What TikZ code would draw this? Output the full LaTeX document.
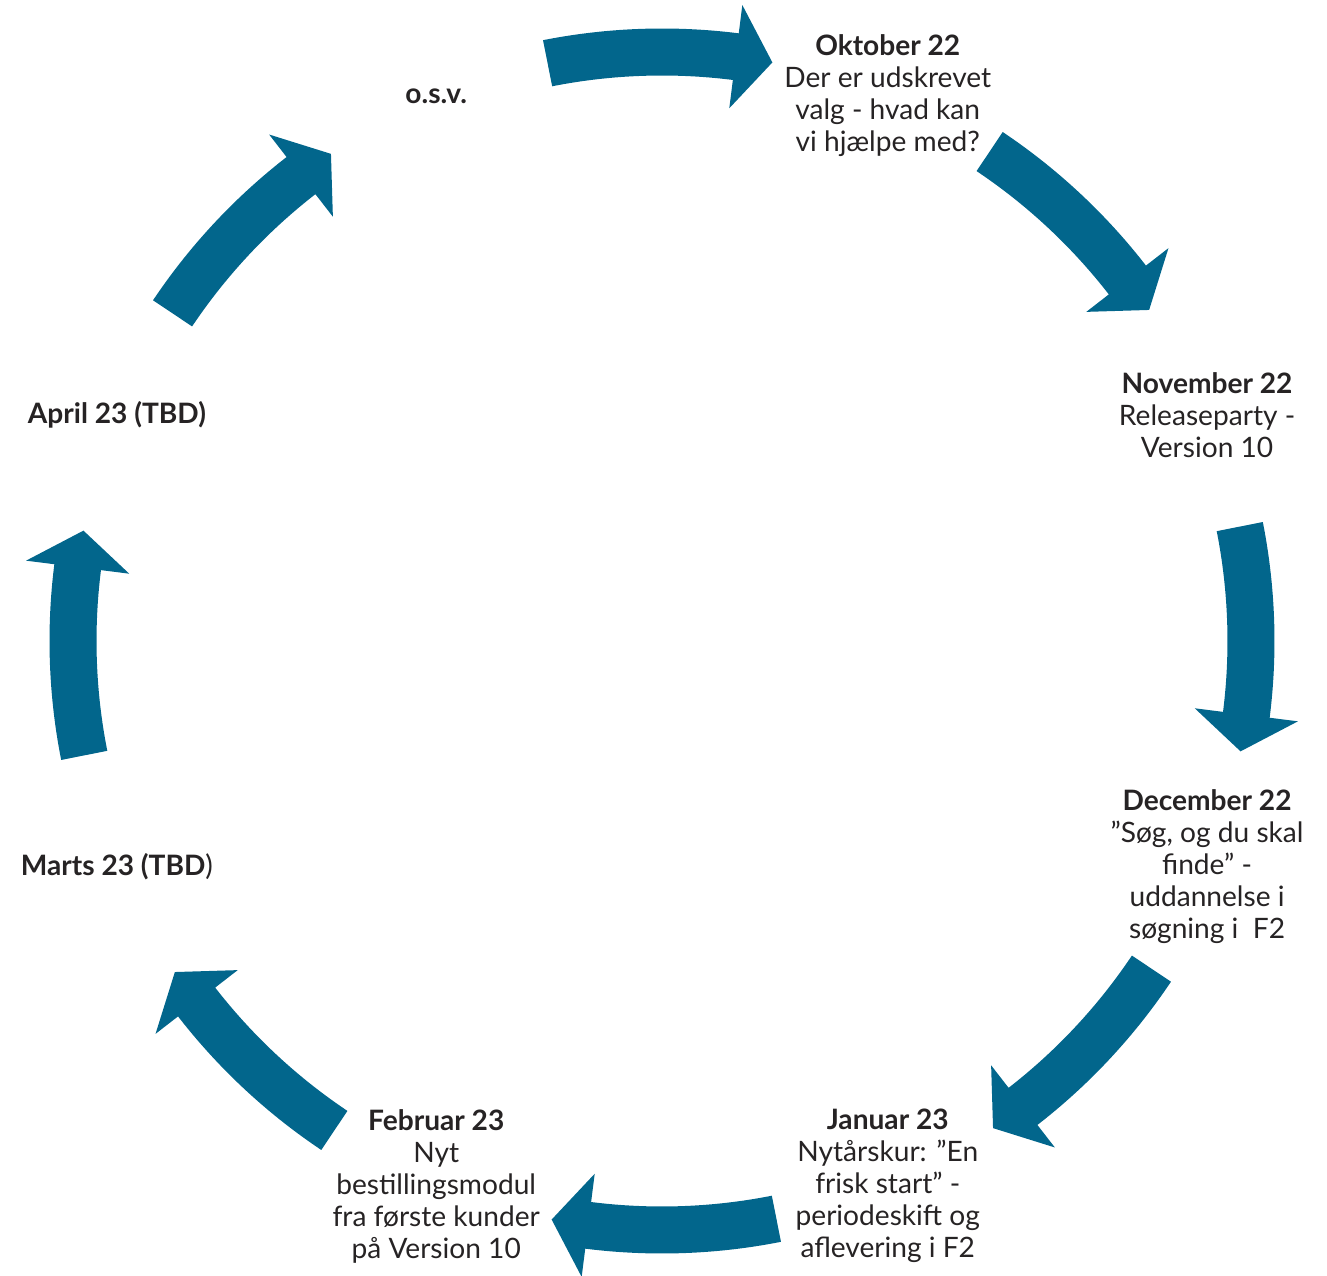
\documentclass[tikz,border=0pt]{standalone}
\usepackage{fontspec}
\setmainfont{Lato}
\usepackage{tikz}
\definecolor{arrowblue}{RGB}{2,102,140}
\definecolor{txtgray}{RGB}{38,35,36}
\newcommand\cyclefont{\fontsize{16pt}{18.2pt}\selectfont}

\begin{document}
\begin{tikzpicture}[every node/.style={align=center,text=txtgray,font=\cyclefont,inner sep=0pt},
                    cyclearrow/.style={fill=arrowblue}]
   \useasboundingbox (-13.24,-12.68) rectangle (13.30,12.82);
   \node (okt) at (67.5:11.8)   {\textbf{Oktober 22}\\Der er udskrevet\\valg - hvad kan\\vi hjælpe med?};
   \node (nov) at (22.5:11.8)   {\textbf{November 22}\\Releaseparty -\\Version 10};
   \node (dec) at (-22.5:11.8)  {\textbf{December 22}\\”Søg, og du skal\\finde” -\\uddannelse i\\søgning i\ \ F2};
   \node (jan) at (-67.5:11.8)  {\textbf{Januar 23}\\Nytårskur: ”En\\frisk start” -\\periodeskift og\\aflevering i F2};
   \node (feb) at (-112.5:11.8) {\textbf{Februar 23}\\Nyt\\bestillingsmodul\\fra første kunder\\på Version 10};
   \node (mar) at (-157.5:11.8) {\textbf{Marts 23 (TBD})};
   \node (apr) at (157.5:11.8)  {\textbf{April 23 (TBD)}};
   \node (osv) at (112.5:11.8)  {\textbf{o.s.v.}};
   \foreach \a in {90,45,0,-45,-90,-135,-180,-225}
      \fill[cyclearrow] (\a+11.2:11.31) arc[start angle=\a+11.2, end angle=\a-7.2, radius=11.31]
         -- (\a-7.2:10.74) -- (\a-10.8:11.78) -- (\a-7.2:12.82) -- (\a-7.2:12.25)
         arc[start angle=\a-7.2, end angle=\a+11.2, radius=12.25] -- cycle;
\end{tikzpicture}
\end{document}
